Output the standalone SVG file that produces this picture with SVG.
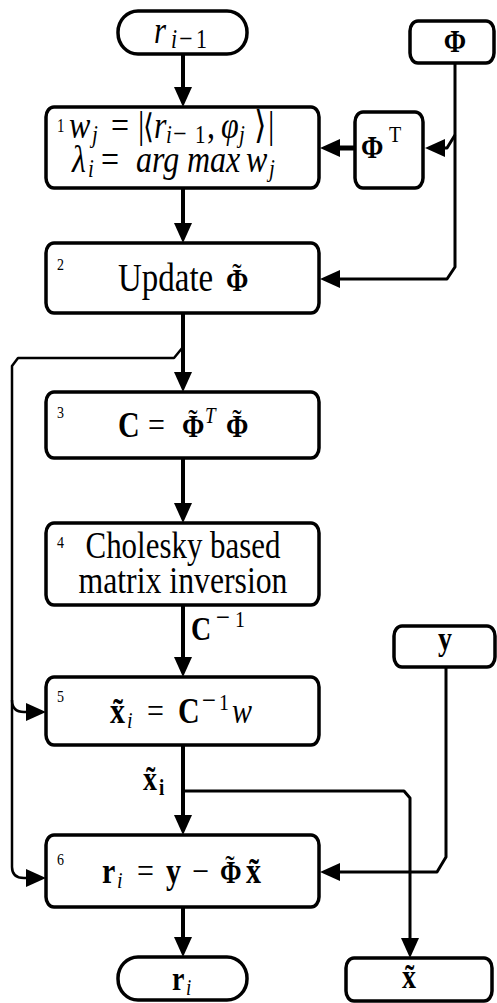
<svg xmlns="http://www.w3.org/2000/svg" width="497" height="1003" viewBox="0 0 497 1003">
  <style>
    .t { font-family: "Liberation Serif", "DejaVu Serif", serif; fill: #000; }
    .it { font-style: italic; }
    .b { font-weight: bold; }
    .num { font-size: 14px; }
    .tl { font-size: 28px; font-weight: normal; font-style: normal; }
    .box { fill: #fff; stroke: #000; stroke-width: 3.5; }
    .ln { fill: none; stroke: #000; stroke-linejoin: round; }
    .main { stroke-width: 4; }
    .side { stroke-width: 3; }
    .fb { stroke-width: 2.5; }
  </style>
  <defs>
    <marker id="ah" viewBox="0 0 20 18" refX="10" refY="9" markerWidth="20" markerHeight="18" markerUnits="userSpaceOnUse" orient="auto">
      <path d="M0,0 L20,9 L0,18 Z" fill="#000"/>
    </marker>
  </defs>
  <rect width="497" height="1003" fill="#fff"/>

  <!-- connectors -->
  <g id="connectors">
    <path class="ln main" d="M183 55 V97" marker-end="url(#ah)"/>
    <path class="ln main" d="M183 188 V233" marker-end="url(#ah)"/>
    <path class="ln main" d="M183 313 V382" marker-end="url(#ah)"/>
    <path class="ln main" d="M183 458 V513" marker-end="url(#ah)"/>
    <path class="ln main" d="M183 605 V667" marker-end="url(#ah)"/>
    <path class="ln main" d="M183 745 V825" marker-end="url(#ah)"/>
    <path class="ln main" d="M183 907 V947" marker-end="url(#ah)"/>
    <!-- Phi feed into the update block -->
    <path class="ln side" d="M455 63 V267 L447 279 H330" marker-end="url(#ah)"/>
    <!-- Phi branch into the transpose -->
    <path class="ln side" d="M455 135 L447 148 H435" marker-end="url(#ah)"/>
    <!-- transpose to correlation block -->
    <path class="ln" stroke-width="5" d="M355 148 H330" marker-end="url(#ah)"/>
    <!-- feedback of updated Phi to steps 5 and 6 -->
    <path class="ln fb" d="M183 347 L174 358 H18 L12 366 V867 Q12 878 24 878 H36" marker-end="url(#ah)"/>
    <path class="ln fb" d="M12 700 Q12 712 24 712 H36" marker-end="url(#ah)"/>
    <!-- estimate out -->
    <path class="ln side" d="M183 791 H404 L410 798 V948" marker-end="url(#ah)"/>
    <!-- measurement y into residual -->
    <path class="ln side" d="M446 667 V857 L437 872 H330" marker-end="url(#ah)"/>
  </g>

  <!-- input residual -->
  <g id="n-rprev">
    <rect class="box" x="118" y="11" width="129" height="43" rx="20" ry="21"/>
    <text class="t" transform="translate(0 43) scale(1 1.2)" font-size="31"><tspan x="154" class="it">r</tspan><tspan x="171" y="4" font-size="22" class="it">i</tspan><tspan x="179" y="4" font-size="24">−</tspan><tspan x="196" y="4" font-size="22">1</tspan></text>
  </g>

  <!-- dictionary -->
  <g id="n-phi">
    <rect class="box" x="410" y="21" width="84" height="42" rx="8" ry="10"/>
    <text class="t b" transform="translate(455 52) scale(1 1.2)" font-size="27" text-anchor="middle">Φ</text>
  </g>

  <g id="n-phiT">
    <rect class="box" x="355" y="112" width="68" height="76" rx="8" ry="10"/>
    <text class="t" transform="translate(0 158) scale(1 1.2)" font-size="27"><tspan x="361" class="b">Φ</tspan><tspan x="389" y="-13" font-size="20">T</tspan></text>
  </g>

  <!-- step 1 -->
  <g id="n-step1">
    <rect class="box" x="46" y="107" width="273" height="81" rx="8" ry="10"/>
    <text class="t" transform="translate(0 138) scale(1 1.2)" font-size="32"><tspan x="57" y="-5" font-size="15">1</tspan><tspan x="69" y="0" class="it">w</tspan><tspan x="92" y="4" class="it" font-size="21">j</tspan><tspan x="111" y="0">=</tspan><tspan x="138">|</tspan><tspan x="143" font-size="28">⟨</tspan><tspan x="154" class="it">r</tspan><tspan x="166" y="4" class="it" font-size="21">i</tspan><tspan x="173" y="4" font-size="24">−</tspan><tspan x="195" y="4" font-size="21">1</tspan><tspan x="207" y="0">,</tspan><tspan x="221" class="it">φ</tspan><tspan x="239" y="4" class="it" font-size="21">j</tspan><tspan x="254" y="0">⟩</tspan><tspan x="268">|</tspan></text>
    <text class="t" transform="translate(0 172) scale(1 1.2)" font-size="32"><tspan x="72" class="it">λ</tspan><tspan x="88" y="4" class="it" font-size="21">i</tspan><tspan x="101" y="0">=</tspan><tspan x="136" class="it">arg</tspan><tspan x="187" class="it">max</tspan><tspan x="246" class="it">w</tspan><tspan x="269" y="4" class="it" font-size="21">j</tspan></text>
  </g>

  <!-- step 2 -->
  <g id="n-step2">
    <rect class="box" x="46" y="243" width="273" height="70" rx="8" ry="10"/>
    <text class="t num" transform="translate(57 270) scale(1 1.2)">2</text>
    <text class="t" transform="translate(0 291) scale(1 1.2)" font-size="33"><tspan x="118">Update</tspan><tspan x="226" class="b" font-size="27">Φ</tspan><tspan x="237" y="-3" class="tl" text-anchor="middle">˜</tspan></text>
  </g>

  <!-- step 3 -->
  <g id="n-step3">
    <rect class="box" x="46" y="392" width="273" height="66" rx="8" ry="10"/>
    <text class="t num" transform="translate(57 418) scale(1 1.2)">3</text>
    <text class="t" transform="translate(0 437) scale(1 1.2)" font-size="30"><tspan x="118" class="b">C</tspan><tspan x="148">=</tspan><tspan x="182" class="b" font-size="27">Φ</tspan><tspan x="193" y="-3" class="tl" text-anchor="middle">˜</tspan><tspan x="205" y="-12" class="it" font-size="19">T</tspan><tspan x="226" y="0" class="b" font-size="27">Φ</tspan><tspan x="237" y="-3" class="tl" text-anchor="middle">˜</tspan></text>
  </g>

  <!-- step 4 -->
  <g id="n-step4">
    <rect class="box" x="46" y="523" width="273" height="82" rx="8" ry="10"/>
    <text class="t num" transform="translate(57 548) scale(1 1.2)">4</text>
    <text class="t" transform="translate(183 558) scale(1 1.2)" font-size="31" text-anchor="middle" textLength="195" lengthAdjust="spacingAndGlyphs">Cholesky based</text>
    <text class="t" transform="translate(183 593) scale(1 1.2)" font-size="31" text-anchor="middle" textLength="209" lengthAdjust="spacingAndGlyphs">matrix inversion</text>
  </g>

  <!-- inverse label -->
  <text class="t" transform="translate(0 640) scale(1 1.2)" font-size="28"><tspan x="191" class="b">C</tspan><tspan x="216" y="-11" font-size="25">−</tspan><tspan x="235" y="-11" font-size="20">1</tspan></text>

  <!-- step 5 -->
  <g id="n-step5">
    <rect class="box" x="46" y="677" width="273" height="68" rx="8" ry="10"/>
    <text class="t num" transform="translate(57 702) scale(1 1.2)">5</text>
    <text class="t" transform="translate(0 723) scale(1 1.2)" font-size="30"><tspan x="110" class="b">x̃</tspan><tspan x="127" y="4" class="it" font-size="20">i</tspan><tspan x="147" y="0">=</tspan><tspan x="178" class="b">C</tspan><tspan x="202" y="-11" font-size="25">−</tspan><tspan x="219" y="-11" font-size="20">1</tspan><tspan x="232" y="0" class="it">w</tspan></text>
  </g>

  <!-- estimate label -->
  <text class="t" transform="translate(0 790) scale(1 1.2)" font-size="28"><tspan x="143" class="b">x̃</tspan><tspan x="159" y="4" class="b" font-size="19">i</tspan></text>

  <!-- measurement -->
  <g id="n-y">
    <rect class="box" x="394" y="626" width="101" height="41" rx="8" ry="10"/>
    <text class="t b" transform="translate(445 650) scale(1 1.2)" font-size="28" text-anchor="middle">y</text>
  </g>

  <!-- step 6 -->
  <g id="n-step6">
    <rect class="box" x="46" y="835" width="273" height="72" rx="8" ry="10"/>
    <text class="t num" transform="translate(57 865) scale(1 1.2)">6</text>
    <text class="t" transform="translate(0 883) scale(1 1.2)" font-size="30"><tspan x="102" class="b">r</tspan><tspan x="117" y="4" class="it" font-size="20">i</tspan><tspan x="137" y="0">=</tspan><tspan x="166" class="b">y</tspan><tspan x="192">−</tspan><tspan x="220" class="b" font-size="26">Φ</tspan><tspan x="230" y="-3" class="tl" text-anchor="middle">˜</tspan><tspan x="246" y="0" class="b">x̃</tspan></text>
  </g>

  <!-- outputs -->
  <g id="n-ri">
    <rect class="box" x="118" y="957" width="129" height="43" rx="20" ry="21"/>
    <text class="t" transform="translate(0 990) scale(1 1.2)" font-size="28"><tspan x="172" class="b">r</tspan><tspan x="186" y="4" class="it" font-size="19">i</tspan></text>
  </g>

  <g id="n-xhat">
    <rect class="box" x="346" y="958" width="146" height="43" rx="8" ry="10"/>
    <text class="t b" transform="translate(409 988) scale(1 1.2)" font-size="28" text-anchor="middle">x̃</text>
  </g>
</svg>
